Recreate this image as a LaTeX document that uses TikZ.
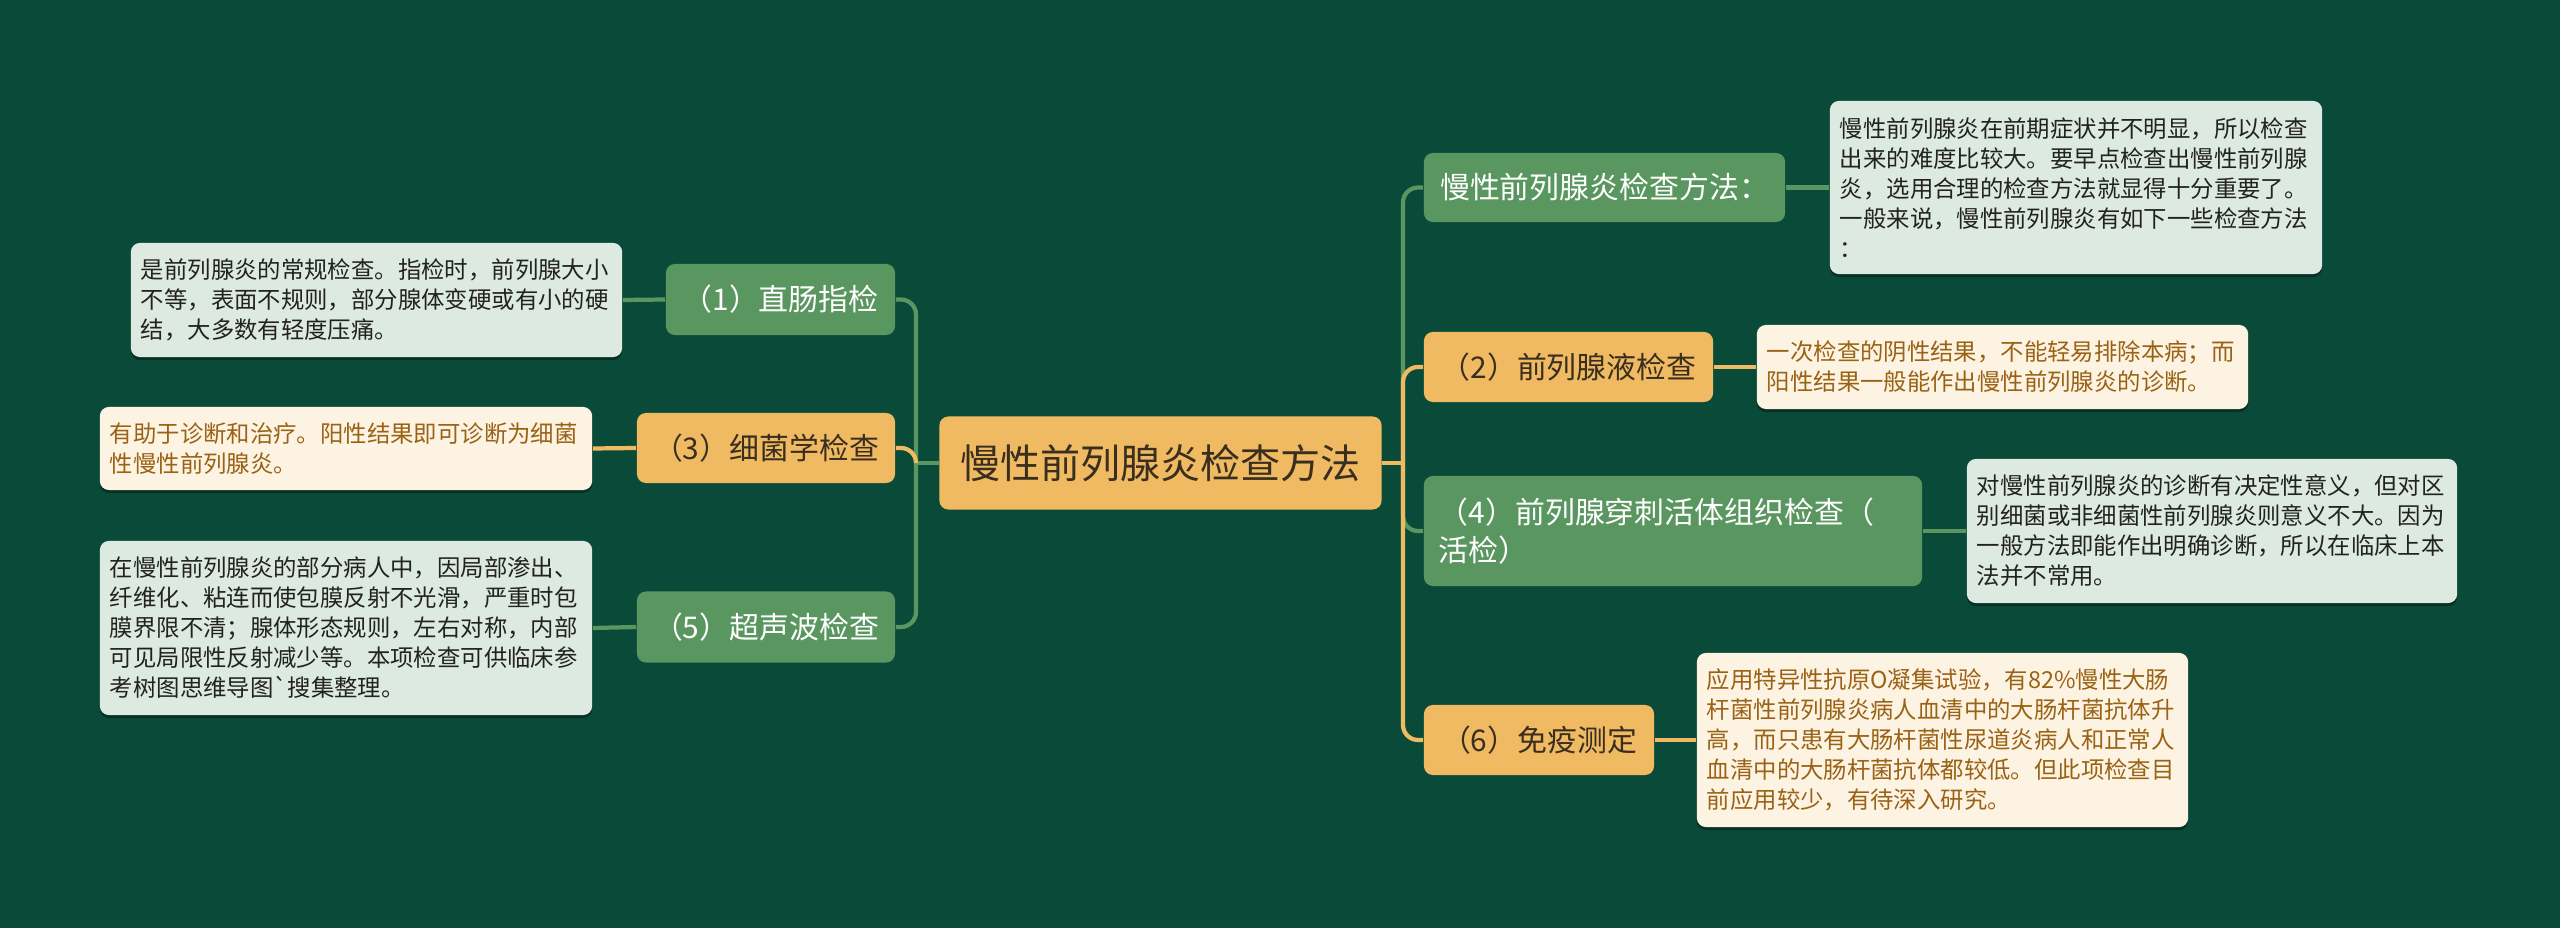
\documentclass[tikz,border=0pt]{standalone}
\usepackage{fontspec}
\setmainfont{Noto Sans CJK SC}[Ligatures=TeXOff]
\usetikzlibrary{shadows}
\definecolor{bg}{HTML}{0A4A38}
\definecolor{gnode}{HTML}{5A9660}
\definecolor{onode}{HTML}{F0BA62}
\definecolor{gleaf}{HTML}{DDEAE1}
\definecolor{oleaf}{HTML}{FDF3E3}
\definecolor{otext}{HTML}{9A6214}
\definecolor{dtext}{HTML}{3A2E1E}
\definecolor{ltext}{HTML}{222222}
\tikzset{
  box/.style={rounded corners=0.09cm, inner xsep=0.15cm, inner ysep=0pt, anchor=center, align=center},
  gbranch/.style={box, fill=gnode, text=white, font=\fontsize{8.5}{11}\selectfont},
  obranch/.style={box, fill=onode, text=dtext, font=\fontsize{8.5}{11}\selectfont},
  leaf/.style={box, inner xsep=0.1cm, align=left, font=\fontsize{6.65}{8.54}\selectfont,
    drop shadow={shadow xshift=0pt, shadow yshift=-0.03cm, opacity=0.35, fill=black}},
  gleafs/.style={leaf, fill=gleaf, text=ltext},
  oleafs/.style={leaf, fill=oleaf, text=otext},
  gline/.style={draw=gnode, line width=1.2pt},
  oline/.style={draw=onode, line width=1.2pt},
  rc/.style={rounded corners=0.15cm},
}
\begin{document}
\begin{tikzpicture}[x=0.01cm,y=-0.01cm]
\fill[bg] (0,0) rectangle (2560,928);
\useasboundingbox (0,0) rectangle (2560,928);

% central
\node[obranch, font=\fontsize{11.4}{14}\selectfont, minimum width=4.42cm, minimum height=0.93cm] (C) at (1160.5,463) {慢性前列腺炎检查方法};

% left branches
\node[gbranch, minimum width=2.29cm, minimum height=0.71cm] (B1) at (780.5,299.5) {（1）直肠指检};
\node[obranch, minimum width=2.58cm, minimum height=0.70cm] (B3) at (766,448) {（3）细菌学检查};
\node[gbranch, minimum width=2.58cm, minimum height=0.71cm] (B5) at (766,627) {（5）超声波检查};

% right branches
\node[gbranch, minimum width=3.61cm, minimum height=0.69cm] (R0) at (1604.5,187.5) {慢性前列腺炎检查方法：};
\node[obranch, minimum width=2.89cm, minimum height=0.70cm] (R2) at (1568.5,367) {（2）前列腺液检查};
\node[gbranch, align=left, text width=4.68cm, minimum height=1.10cm] (R4) at (1673,531) {（4）前列腺穿刺活体组织检查（\\活检）};
\node[obranch, minimum width=2.30cm, minimum height=0.70cm] (R6) at (1539,740) {（6）免疫测定};

% leaves
\node[gleafs, text width=4.71cm, minimum height=1.14cm] (L1) at (376.5,300) {是前列腺炎的常规检查。指检时，前列腺大小\\不等，表面不规则，部分腺体变硬或有小的硬\\结，大多数有轻度压痛。};
\node[oleafs, text width=4.72cm, minimum height=0.83cm] (L3) at (346,448.5) {有助于诊断和治疗。阳性结果即可诊断为细菌\\性慢性前列腺炎。};
\node[gleafs, text width=4.72cm, minimum height=1.74cm] (L5) at (346,628) {在慢性前列腺炎的部分病人中，因局部渗出、\\纤维化、粘连而使包膜反射不光滑，严重时包\\膜界限不清；腺体形态规则，左右对称，内部\\可见局限性反射减少等。本项检查可供临床参\\考树图思维导图`搜集整理。};
\node[gleafs, text width=4.72cm, minimum height=1.73cm] (R0L) at (2076,187.5) {慢性前列腺炎在前期症状并不明显，所以检查\\出来的难度比较大。要早点检查出慢性前列腺\\炎，选用合理的检查方法就显得十分重要了。\\一般来说，慢性前列腺炎有如下一些检查方法\\：};
\node[oleafs, text width=4.71cm, minimum height=0.84cm] (R2L) at (2002.5,367) {一次检查的阴性结果，不能轻易排除本病；而\\阳性结果一般能作出慢性前列腺炎的诊断。};
\node[gleafs, text width=4.70cm, minimum height=1.44cm] (R4L) at (2212,531) {对慢性前列腺炎的诊断有决定性意义，但对区\\别细菌或非细菌性前列腺炎则意义不大。因为\\一般方法即能作出明确诊断，所以在临床上本\\法并不常用。};
\node[oleafs, text width=4.71cm, minimum height=1.74cm] (R6L) at (1942.5,740) {应用特异性抗原O凝集试验，有82\%慢性大肠\\杆菌性前列腺炎病人血清中的大肠杆菌抗体升\\高，而只患有大肠杆菌性尿道炎病人和正常人\\血清中的大肠杆菌抗体都较低。但此项检查目\\前应用较少，有待深入研究。};

\coordinate (tL) at (916,463);
\coordinate (tR) at (1403,463);

% green connectors
\draw[gline] (C.west) -- (tL);
\draw[gline, rc] (tL) |- (B1.east);
\draw[gline, rc] (tL) |- (B5.east);
\draw[gline] (B1.west) -- (L1.east);
\draw[gline] (B5.west) -- (L5.east);
\draw[gline, rc] (tR) |- (R0.west);
\draw[gline, rc] (tR) |- (R4.west);
\draw[gline] (R0.east) -- (R0L.west);
\draw[gline] (R4.east) -- (R4L.west);
% orange connectors
\draw[oline] (C.east) -- (tR);
\draw[oline, rc] (tR) |- (R2.west);
\draw[oline, rc] (tR) |- (R6.west);
\draw[oline, rc] (tL) |- (B3.east);
\draw[oline] (B3.west) -- (L3.east);
\draw[oline] (R2.east) -- (R2L.west);
\draw[oline] (R6.east) -- (R6L.west);
\end{tikzpicture}
\end{document}
